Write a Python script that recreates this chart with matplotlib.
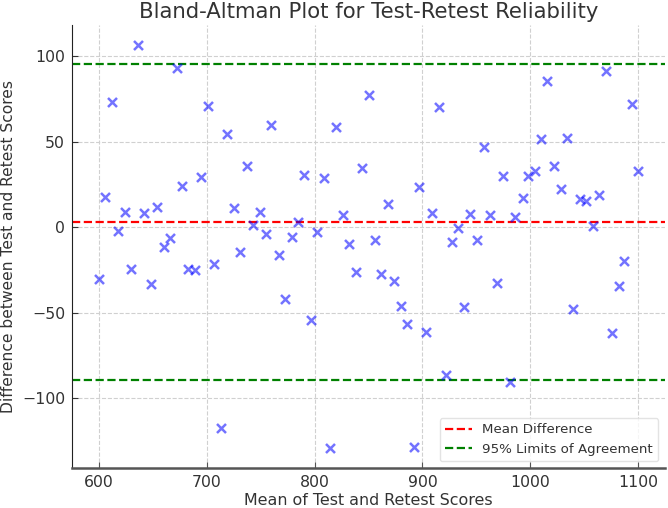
import numpy as np
import matplotlib
matplotlib.use("Agg")
import matplotlib.pyplot as plt

# valores: media de test/retest y diferencia
mean_scores = [600, 606, 612, 618, 624, 630, 636, 642, 648, 654, 660, 666, 672, 677, 683,
               689, 695, 701, 707, 713, 719, 725, 731, 737, 743, 749, 755, 760, 767, 773,
               779, 785, 790, 797, 802, 809, 814, 820, 826, 832, 838, 844, 850, 856, 862,
               868, 874, 880, 886, 892, 897, 903, 909, 915, 922, 927, 933, 939, 944, 951,
               957, 963, 969, 975, 981, 986, 993, 998, 1004, 1010, 1016, 1022, 1029, 1034,
               1040, 1046, 1052, 1058, 1064, 1070, 1076, 1082, 1087, 1094, 1100]
diff_scores = [-30.0, 17.9, 73.6, -2.3, 9.0, -24.2, 106.6, 8.4, -33.2, 11.7, -11.5, -6.2,
               93.3, 24.3, -24.2, -25.2, 29.6, 70.8, -21.3, -117.4, 54.6, 11.0, -14.6, 36.0,
               1.6, 9.0, -3.9, 60.1, -16.2, -41.8, -5.9, 2.8, 30.5, -54.4, -2.9, 28.8,
               -129.1, 58.9, 7.0, -9.8, -26.4, 34.8, 77.3, -7.6, -27.2, 13.5, -31.3, -46.3,
               -56.7, -128.7, 23.7, -61.0, 8.6, 70.4, -86.3, -8.6, -0.2, -46.7, 7.6, -7.6,
               47.2, 7.0, -32.6, 30.2, -90.7, 6.1, 17.4, 29.8, 32.7, 51.5, 85.5, 35.6, 22.5,
               52.1, -47.7, 16.8, 15.3, 1.0, 18.8, 91.2, -61.6, -34.4, -19.9, 72.0, 33.1]

mean_diff = np.mean(diff_scores)
sd_diff = np.std(diff_scores)

txt = '#333333'
plt.rcParams['font.family'] = 'DejaVu Sans'
plt.rcParams['text.color'] = txt
plt.rcParams['axes.labelcolor'] = txt
plt.rcParams['xtick.color'] = txt
plt.rcParams['ytick.color'] = txt

fig = plt.figure(figsize=(6.68, 5.08), dpi=100)
ax = fig.add_axes([0.1078, 0.0787, 0.8877, 0.8721])

ax.scatter(mean_scores, diff_scores, marker='x', color='blue', alpha=0.55, s=42, linewidths=1.8, zorder=3)
ax.axhline(mean_diff, color='red', linestyle='--', linewidth=1.6, label='Mean Difference')
ax.axhline(mean_diff + 1.96 * sd_diff, color='green', linestyle='--', linewidth=1.6,
           label='95% Limits of Agreement')
ax.axhline(mean_diff - 1.96 * sd_diff, color='green', linestyle='--', linewidth=1.6)

ax.set_title('Bland-Altman Plot for Test-Retest Reliability', fontsize=15.3, pad=5)
ax.set_xlabel('Mean of Test and Retest Scores', fontsize=11.4, labelpad=2)
ax.set_ylabel('Difference between Test and Retest Scores', fontsize=11.2, labelpad=4)
ax.tick_params(labelsize=11.3, length=4, direction='in', pad=5)
ax.tick_params(axis='x', color='#555555')

ax.grid(True, linestyle='--', color='#d0d0d0', linewidth=0.8)
ax.set_axisbelow(True)
for s in ['top', 'right']:
    ax.spines[s].set_visible(False)
ax.spines['left'].set_color('#222222')
ax.spines['bottom'].set_color('#555555')
ax.spines['bottom'].set_linewidth(1.8)

ax.legend(loc='lower right', fontsize=9.6, edgecolor='#dddddd')

fig.savefig('out.png', dpi=100)
